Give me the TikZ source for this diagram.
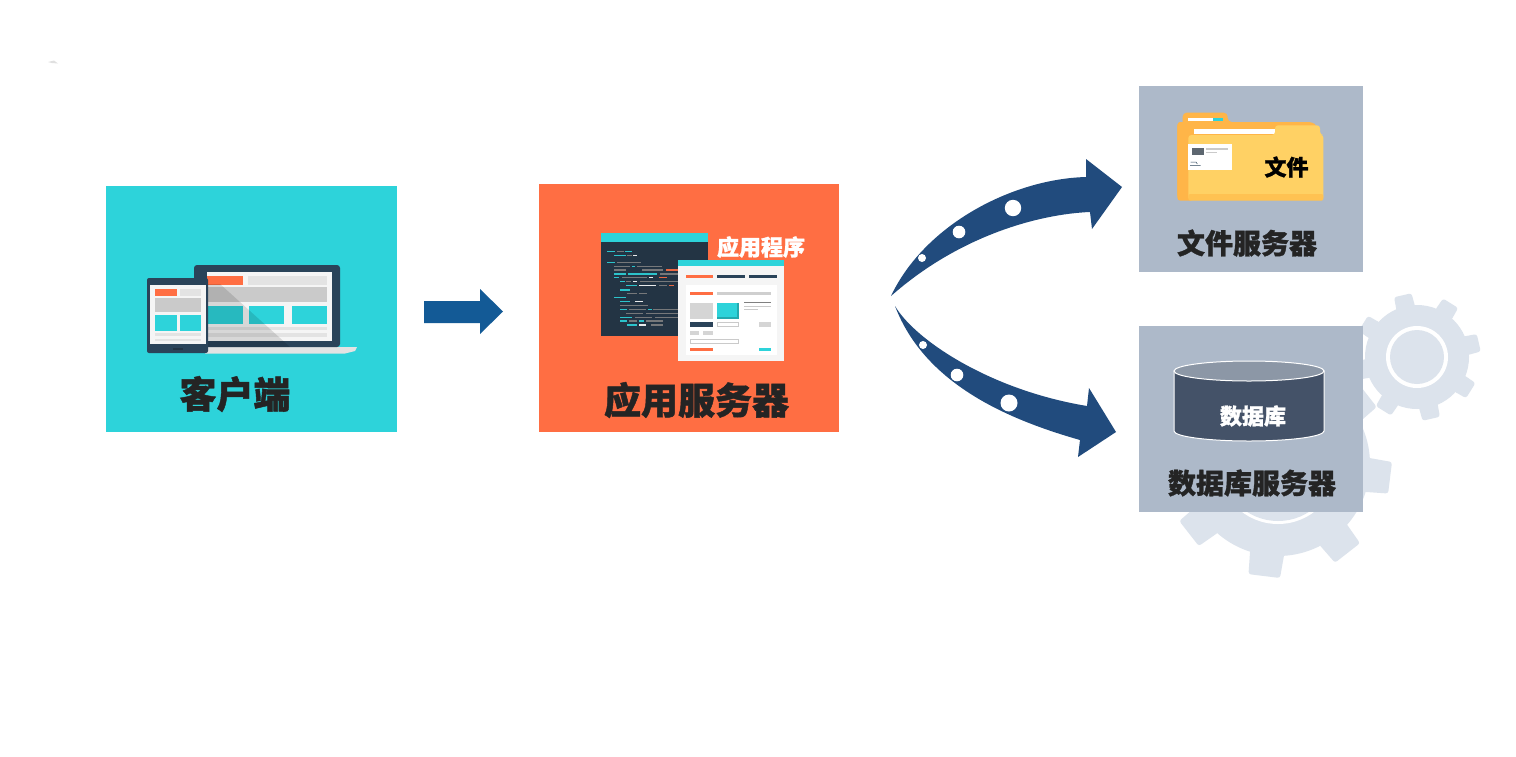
\documentclass[tikz,border=0pt]{standalone}
\usepackage{fontspec}
\newfontfamily\cjk[BoldFeatures={FakeBold=1.2}]{Noto Sans CJK SC}
\definecolor{tealc}{HTML}{2DD3DA}
\definecolor{orangec}{HTML}{FF6E43}
\definecolor{slatebox}{HTML}{ADB9C9}
\definecolor{navyc}{HTML}{214B7D}
\definecolor{bluec}{HTML}{135A96}
\definecolor{gearc}{HTML}{DCE3EC}
\definecolor{darkc}{HTML}{2A4359}
\definecolor{codebg}{HTML}{233444}
\definecolor{paperc}{HTML}{F5F5F5}
\definecolor{txtc}{HTML}{242424}
\definecolor{foldb}{HTML}{FFB548}
\definecolor{foldf}{HTML}{FFD164}
\definecolor{foldm}{HTML}{FFC252}
\definecolor{graya}{HTML}{CACACA}
\definecolor{grayb}{HTML}{E3E3E3}
\definecolor{cylside}{HTML}{445268}
\definecolor{cyltop}{HTML}{8C97A6}
\tikzset{
  panel/.style={draw=none,inner sep=0pt,anchor=north west},
  bigt/.style={font=\cjk\bfseries\fontsize{37}{37}\selectfont,text=txtc,inner sep=0pt},
  midt/.style={font=\cjk\bfseries\fontsize{28}{28}\selectfont,text=txtc,inner sep=0pt},
  smallt/.style={font=\cjk\bfseries\fontsize{22}{22}\selectfont,inner sep=0pt},
  zoomed/.style={x=0.33333pt,y=-0.33333pt},
}
\newcommand{\rr}[3]{\fill[#1] #2 rectangle #3;}
\newcommand{\gearshape}[7]{% cx cy body outer ringout ringin angles
  \fill[gearc] (#1,#2) circle[radius=#3];
  \foreach \a in {#7}{
    \fill[gearc,rounded corners=2.5pt] ([shift={(#1,#2)}]\a-11:#3-2) -- ([shift={(#1,#2)}]\a-8:#4) -- ([shift={(#1,#2)}]\a+8:#4) -- ([shift={(#1,#2)}]\a+11:#3-2) -- cycle;
  }
  \fill[white] (#1,#2) circle[radius=#5];
  \fill[gearc] (#1,#2) circle[radius=#6];
}
\begin{document}
\begin{tikzpicture}[x=1pt,y=-1pt]
\useasboundingbox (0,0) rectangle (1516,756);
\fill[white] (0,0) rectangle (1516,756);
\fill[black!12] (48,62) -- (54,60.5) -- (58,63.5) -- (52,63) -- cycle;

% gears
\gearshape{1278}{464}{92}{114}{60}{57}{7,52,97,142,187,232,277,322}
\gearshape{1417}{357}{52}{64}{31}{27}{-13,-58,-103,-148,-193,-238,-283,-328}

% panels
\node[panel,fill=tealc,minimum width=291pt,minimum height=246pt] (client) at (106,186) {};
\node[panel,fill=orangec,minimum width=300pt,minimum height=248pt] (app) at (539,184) {};
\node[panel,fill=slatebox,minimum width=224pt,minimum height=186pt] (file) at (1139,86) {};
\node[panel,fill=slatebox,minimum width=224pt,minimum height=186pt] (db) at (1139,326) {};

% client -> app arrow
\fill[bluec] (424,301) -- (480,301) -- (480,289) -- (503,311.5) -- (480,334) -- (480,323) -- (424,323) -- cycle;

% upper curved arrow
\fill[navyc] (891,296) .. controls (924.5,225) and (1012,179) .. (1086,177) -- (1086,159) -- (1122,187) -- (1092,229) -- (1090,212) .. controls (1040,214) and (960,235) .. (891,296) -- cycle;
\fill[white] (1013,208) circle[radius=8.2] (959,232) circle[radius=6.3] (922,258) circle[radius=4];
% lower curved arrow
\fill[navyc] (895,306) .. controls (915,340) and (990,390) .. (1087,406) -- (1089,388) -- (1116,432) -- (1078,457) -- (1080,440) .. controls (1010,420) and (925,385) .. (895,306) -- cycle;
\fill[white] (1009,403) circle[radius=8.5] (957,375) circle[radius=6.3] (923,345) circle[radius=4];

% laptop
\fill[grayb] (205,347) -- (357,347) -- (355,351) -- (345,353.5) -- (205,353.5) -- cycle;
\fill[darkc,rounded corners=3pt] (194,265) rectangle (340,347);
\rr{paperc}{(207,272)}{(332,341)}
\rr{orangec}{(207,276)}{(243,285)}
\rr{grayb}{(248,276)}{(327,285)}
\rr{graya}{(207,287)}{(327,302)}
\rr{tealc}{(207,306)}{(243,324)}
\rr{tealc}{(249,306)}{(284,324)}
\rr{tealc}{(292,306)}{(327,324)}
\rr{grayb}{(207,327)}{(327,330)}
\rr{grayb}{(207,333)}{(327,337)}
\fill[black,opacity=.12] (207,284) -- (220,284) -- (290,347) -- (207,347) -- cycle;
% tablet
\fill[darkc,rounded corners=2pt] (147,278) rectangle (208,353);
\rr{paperc}{(150,285)}{(206,344)}
\rr{orangec}{(155,289)}{(177,296)}
\rr{grayb}{(180,289)}{(201,296)}
\rr{graya}{(155,298)}{(201,312)}
\rr{tealc}{(155,315)}{(177,331)}
\rr{tealc}{(180,315)}{(201,331)}
\rr{grayb}{(155,333)}{(201,336)}
\rr{grayb}{(155,339)}{(201,341)}
\rr{codebg}{(173,348)}{(183,350)}

% application icon
\begin{scope}[shift={(590,220)},zoomed]
\rr{codebg}{(32,40)}{(354,348)}
\rr{tealc}{(32,40)}{(354,65)}
\foreach \xa/\xb/\yy/\cc in {
 52/75/94/tealc, 82/102/94/gray, 105/126/94/tealc,
 72/108/106/tealc, 112/125/106/gray, 128/140/106/white,
 52/75/127/tealc, 80/152/127/gray,
 72/120/139/gray, 125/135/139/tealc, 140/215/139/gray,
 72/108/150/gray, 155/220/150/gray, 228/265/150/orangec,
 72/108/162/tealc, 115/200/162/tealc, 210/265/162/gray,
 72/88/173/tealc, 95/170/173/gray, 176/190/173/white, 207/230/173/orangec,
 90/104/185/tealc, 108/124/185/gray, 128/142/185/white, 150/265/185/gray,
 108/140/196/tealc, 146/198/196/white, 207/230/196/gray, 237/252/196/orangec,
 90/120/210/tealc,
 110/140/220/gray, 146/170/220/gray,
 72/108/233/tealc,
 90/120/245/tealc, 135/160/245/white,
 90/175/257/gray,
 90/112/268/tealc, 118/168/268/gray, 174/185/268/tealc, 190/265/268/gray,
 108/160/281/gray, 168/265/281/gray,
 90/125/292/tealc, 135/185/292/gray, 195/265/292/gray,
 90/112/303/tealc, 118/140/303/gray, 146/162/303/tealc, 168/218/303/gray,
 110/140/315/tealc, 148/168/315/white, 183/218/315/gray}{
  \fill[\cc,opacity=.9] (\xa,\yy-2.4) rectangle (\xb,\yy+2.4);
}
\rr{paperc}{(263,120)}{(581,424)}
\rr{tealc}{(263,120)}{(581,138)}
\rr{white}{(287,195)}{(560,405)}
\rr{orangec}{(287,164)}{(368,174)}
\rr{darkc}{(382,164)}{(465,174)}
\rr{darkc}{(478,164)}{(560,174)}
\rr{orangec}{(300,215)}{(368,226)}
\rr{grayb!80!gray}{(382,215)}{(543,226)}
\rr{graya!80!white}{(300,248)}{(368,296)}
\rr{tealc!80!black}{(382,248)}{(447,296)}
\rr{tealc}{(382,248)}{(441,291)}
\rr{gray}{(462,246)}{(543,249)}
\rr{graya}{(462,258)}{(543,260)}
\rr{graya}{(462,267)}{(503,270)}
\rr{darkc}{(300,306)}{(368,320)}
\draw[graya,line width=1pt] (383,307) rectangle (446,319);
\rr{graya!80!white}{(508,306)}{(543,320)}
\rr{graya!80!white}{(300,333)}{(328,344)}
\rr{graya!80!white}{(340,333)}{(368,344)}
\draw[graya,line width=1pt] (301,358) rectangle (446,369);
\rr{orangec}{(300,383)}{(368,394)}
\rr{tealc}{(508,383)}{(543,394)}
\end{scope}

% folder
\begin{scope}[shift={(1160,100)},zoomed]
\fill[foldb,rounded corners=4pt] (68,90) -- (68,38) -- (203,38) -- (203,66) -- (460,66) -- (470,80) -- (470,150) -- (70,302) -- (52,296) -- (52,66) -- (68,66) -- cycle;
\fill[foldb,rounded corners=3pt] (52,66) rectangle (100,302);
\rr{white}{(85,55)}{(160,62)}
\rr{tealc}{(160,55)}{(190,63)}
\rr{white}{(103,87)}{(345,103)}
\fill[foldf,rounded corners=3pt] (85,300) -- (85,105) -- (345,105) -- (345,76) -- (480,76) -- (480,104) -- (490,104) -- (490,300) -- cycle;
\fill[foldm,rounded corners=2pt] (85,282) rectangle (490,302);
\rr{white}{(85,132)}{(215,210)}
\rr{gray!60!darkc}{(97,145)}{(132,164)}
\rr{graya}{(138,145)}{(205,149)}
\rr{graya}{(138,155)}{(172,158)}
\draw[darkc,line width=.5pt] (92,186) -- (108,186) -- (112,192) (90,197) -- (122,197);
\end{scope}

% database cylinder
\filldraw[fill=cylside,draw=white,line width=1pt] (1174,371) -- (1174,431) arc[start angle=180,end angle=360,x radius=75,y radius=-10] -- (1324,371) -- cycle;
\filldraw[fill=cyltop,draw=white,line width=1pt] (1249,371) ellipse[x radius=75,y radius=10];

% labels
\node[bigt] (clientl) at (235,394) {客户端};
\node[bigt] (appl) at (696.5,400) {应用服务器};
\node[smallt,text=white] (progl) at (761,247) {应用程序};
\node[smallt,text=black] (filel) at (1286.5,167) {文件};
\node[midt] (fsl) at (1247,243) {文件服务器};
\node[smallt,text=white] (dbl) at (1253,416) {数据库};
\node[midt] (dbsl) at (1252,483) {数据库服务器};
\end{tikzpicture}
\end{document}
